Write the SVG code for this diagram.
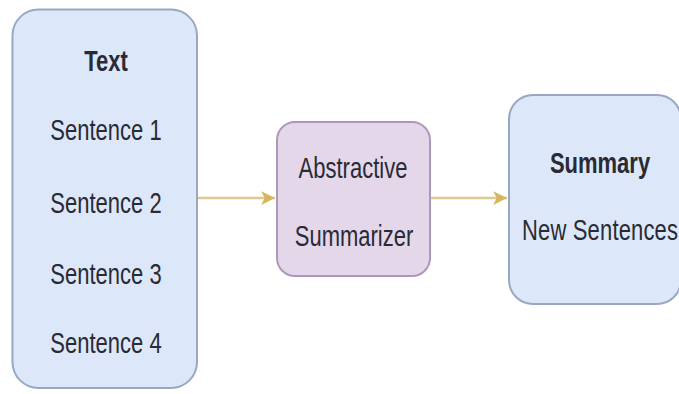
<svg xmlns="http://www.w3.org/2000/svg" width="679" height="394" viewBox="0 0 679 394">
  <style>
    .t { font-family: "Liberation Sans", Arial, sans-serif; font-size: 22px; fill: #2a2a34; text-anchor: middle; }
    .b { font-weight: bold; }
    .blue { fill: #dce8f9; stroke: #98a8c0; stroke-width: 2; }
    .purple { fill: #e4d7ea; stroke: #ad98b9; stroke-width: 2; }
    .conn { stroke: #ddca8e; stroke-width: 2.5; fill: none; }
  </style>
  <defs>
    <marker id="ah" viewBox="0 0 10 10" refX="10" refY="5" markerWidth="5.5" markerHeight="5.5" orient="auto" markerUnits="strokeWidth">
      <path d="M0,0 L10,5 L0,10 L2.5,5 Z" fill="#d4b65c"/>
    </marker>
  </defs>
  <rect width="679" height="394" fill="#ffffff"/>
  <g id="connectors">
    <line class="conn" x1="198" y1="198" x2="275" y2="198" marker-end="url(#ah)"/>
    <line class="conn" x1="431" y1="198" x2="507" y2="198" marker-end="url(#ah)"/>
  </g>
  <g id="text-node">
    <rect class="blue" x="12.5" y="9.5" width="184.5" height="378.5" rx="26" ry="26"/>
    <text class="t b" transform="translate(106,71) scale(1,1.3)">Text</text>
    <text class="t" transform="translate(106,140) scale(1,1.3)">Sentence 1</text>
    <text class="t" transform="translate(106,213) scale(1,1.3)">Sentence 2</text>
    <text class="t" transform="translate(106,284) scale(1,1.3)">Sentence 3</text>
    <text class="t" transform="translate(106,353) scale(1,1.3)">Sentence 4</text>
  </g>
  <g id="summarizer-node">
    <rect class="purple" x="277" y="122" width="153" height="154" rx="18" ry="18"/>
    <text class="t" transform="translate(353,178) scale(1,1.3)">Abstractive</text>
    <text class="t" transform="translate(354,246) scale(1,1.3)">Summarizer</text>
  </g>
  <g id="summary-node">
    <rect class="blue" x="509" y="95" width="172" height="209" rx="24" ry="24"/>
    <text class="t b" transform="translate(600,173) scale(1,1.3)">Summary</text>
    <text class="t" transform="translate(600,240) scale(1,1.3)" textLength="156">New Sentences</text>
  </g>
</svg>
